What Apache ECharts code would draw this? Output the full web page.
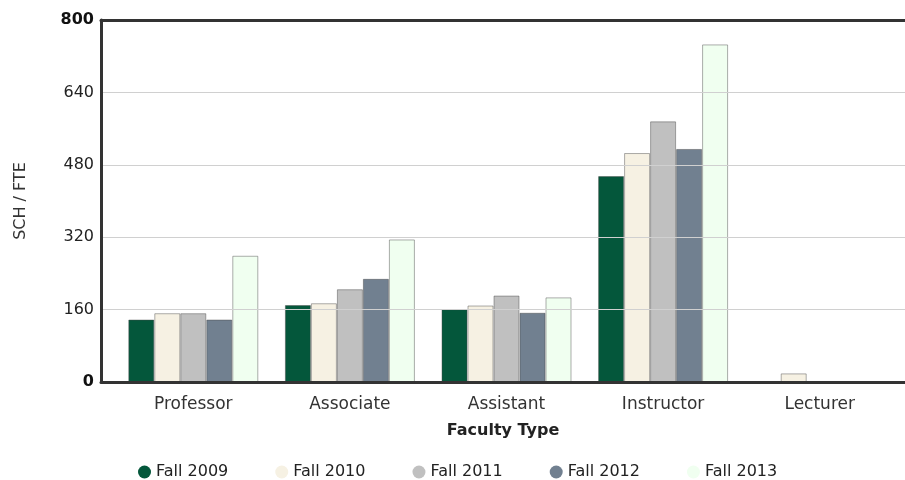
<!DOCTYPE html>
<html>
<head>
<meta charset="utf-8">
<script src="https://cdn.jsdelivr.net/npm/echarts@6/dist/echarts.min.js"></script>
<style>
  html, body { margin: 0; padding: 0; background: #fff; }
  #chart { width: 905px; height: 480px; }
</style>
</head>
<body>
<div id="chart"></div>
<script>
var categories = ['Professor', 'Associate', 'Assistant', 'Instructor', 'Lecturer'];
var seriesNames = ['Fall 2009', 'Fall 2010', 'Fall 2011', 'Fall 2012', 'Fall 2013'];
var fall2009 = [138, 170, 161, 455, 0];
var fall2010 = [152, 174, 169, 506, 19];
var fall2011 = [152, 205, 191, 576, 0];
var fall2012 = [138, 228, 153, 515, 0];
var fall2013 = [279, 315, 187, 746, 0];
var yTicks = [0, 160, 320, 480, 640, 800];

var colors = ['#04573b', '#f6f1e3', '#c0c0c0', '#718090', '#f0fff0'];
var values = [fall2009, fall2010, fall2011, fall2012, fall2013];
var font = 'DejaVu Sans';

var series = seriesNames.map(function (name, i) {
    return {
        name: name,
        type: 'bar',
        xAxisIndex: 1,
        yAxisIndex: 1,
        barWidth: 26,
        barGap: '0%',
        itemStyle: {
            color: colors[i],
            borderColor: 'rgba(70,70,70,0.45)', // thin gray edge round each bar
            borderWidth: 1
        },
        emphasis: { disabled: true },
        data: values[i]
    };
});

var option = {
    backgroundColor: '#fff',
    animation: false,
    color: colors,
    legend: {
        data: seriesNames,
        left: 133,
        top: 459,
        icon: 'circle',
        itemWidth: 13,
        itemHeight: 13,
        itemGap: 47,
        itemStyle: { borderWidth: 0 },
        textStyle: { fontFamily: font, fontSize: 16, color: '#222' }
    },
    grid: [
        // frame: axis lines, gridlines, titles
        { left: 101, right: 0, top: 20, bottom: 98 },
        // bars
        { left: 115, right: 7, top: 20, bottom: 98 }
    ],
    xAxis: [
        {
            type: 'value', gridIndex: 0, min: 0, max: 1, position: 'bottom', z: 5,
            axisLine: { show: true, lineStyle: { color: '#333', width: 3 } },
            axisTick: { show: false }, axisLabel: { show: false }, splitLine: { show: false },
            name: 'Faculty Type',
            nameLocation: 'middle',
            nameGap: 41,
            nameTextStyle: { fontFamily: font, fontSize: 16, fontWeight: 'bold', color: '#222' }
        },
        {
            type: 'category', gridIndex: 1, data: categories,
            axisLine: { show: false }, axisTick: { show: false },
            axisLabel: { margin: 14, fontFamily: font, fontSize: 17, color: '#333' }
        },
        {
            type: 'value', gridIndex: 0, min: 0, max: 1, position: 'top', z: 5,
            axisLine: { show: true, onZero: false, lineStyle: { color: '#333', width: 3 } },
            axisTick: { show: false }, axisLabel: { show: false }, splitLine: { show: false }
        }
    ],
    yAxis: [
        {
            type: 'value', gridIndex: 0, min: yTicks[0], max: yTicks[yTicks.length - 1], interval: 160, z: 5,
            axisLine: { show: true, lineStyle: { color: '#333', width: 3 } },
            axisTick: { show: false },
            axisLabel: {
                margin: 7,
                fontFamily: font, fontSize: 16, color: '#222',
                formatter: function (v) {
                    return (v === 0 || v === 800) ? '{b|' + v + '}' : String(v);
                },
                rich: { b: { fontFamily: font, fontSize: 16, fontWeight: 'bold', color: '#111' } }
            },
            splitLine: { lineStyle: { color: '#d0d0d0', width: 1 } },
            name: 'SCH / FTE',
            nameLocation: 'middle',
            nameGap: 72,
            nameRotate: 90,
            nameTextStyle: { fontFamily: font, fontSize: 16, color: '#333' }
        },
        {
            type: 'value', gridIndex: 1, min: 0, max: 800, interval: 160, show: false
        }
    ],
    series: series
};

var myChart = echarts.init(document.getElementById('chart'));
myChart.setOption(option);
</script>
</body>
</html>
